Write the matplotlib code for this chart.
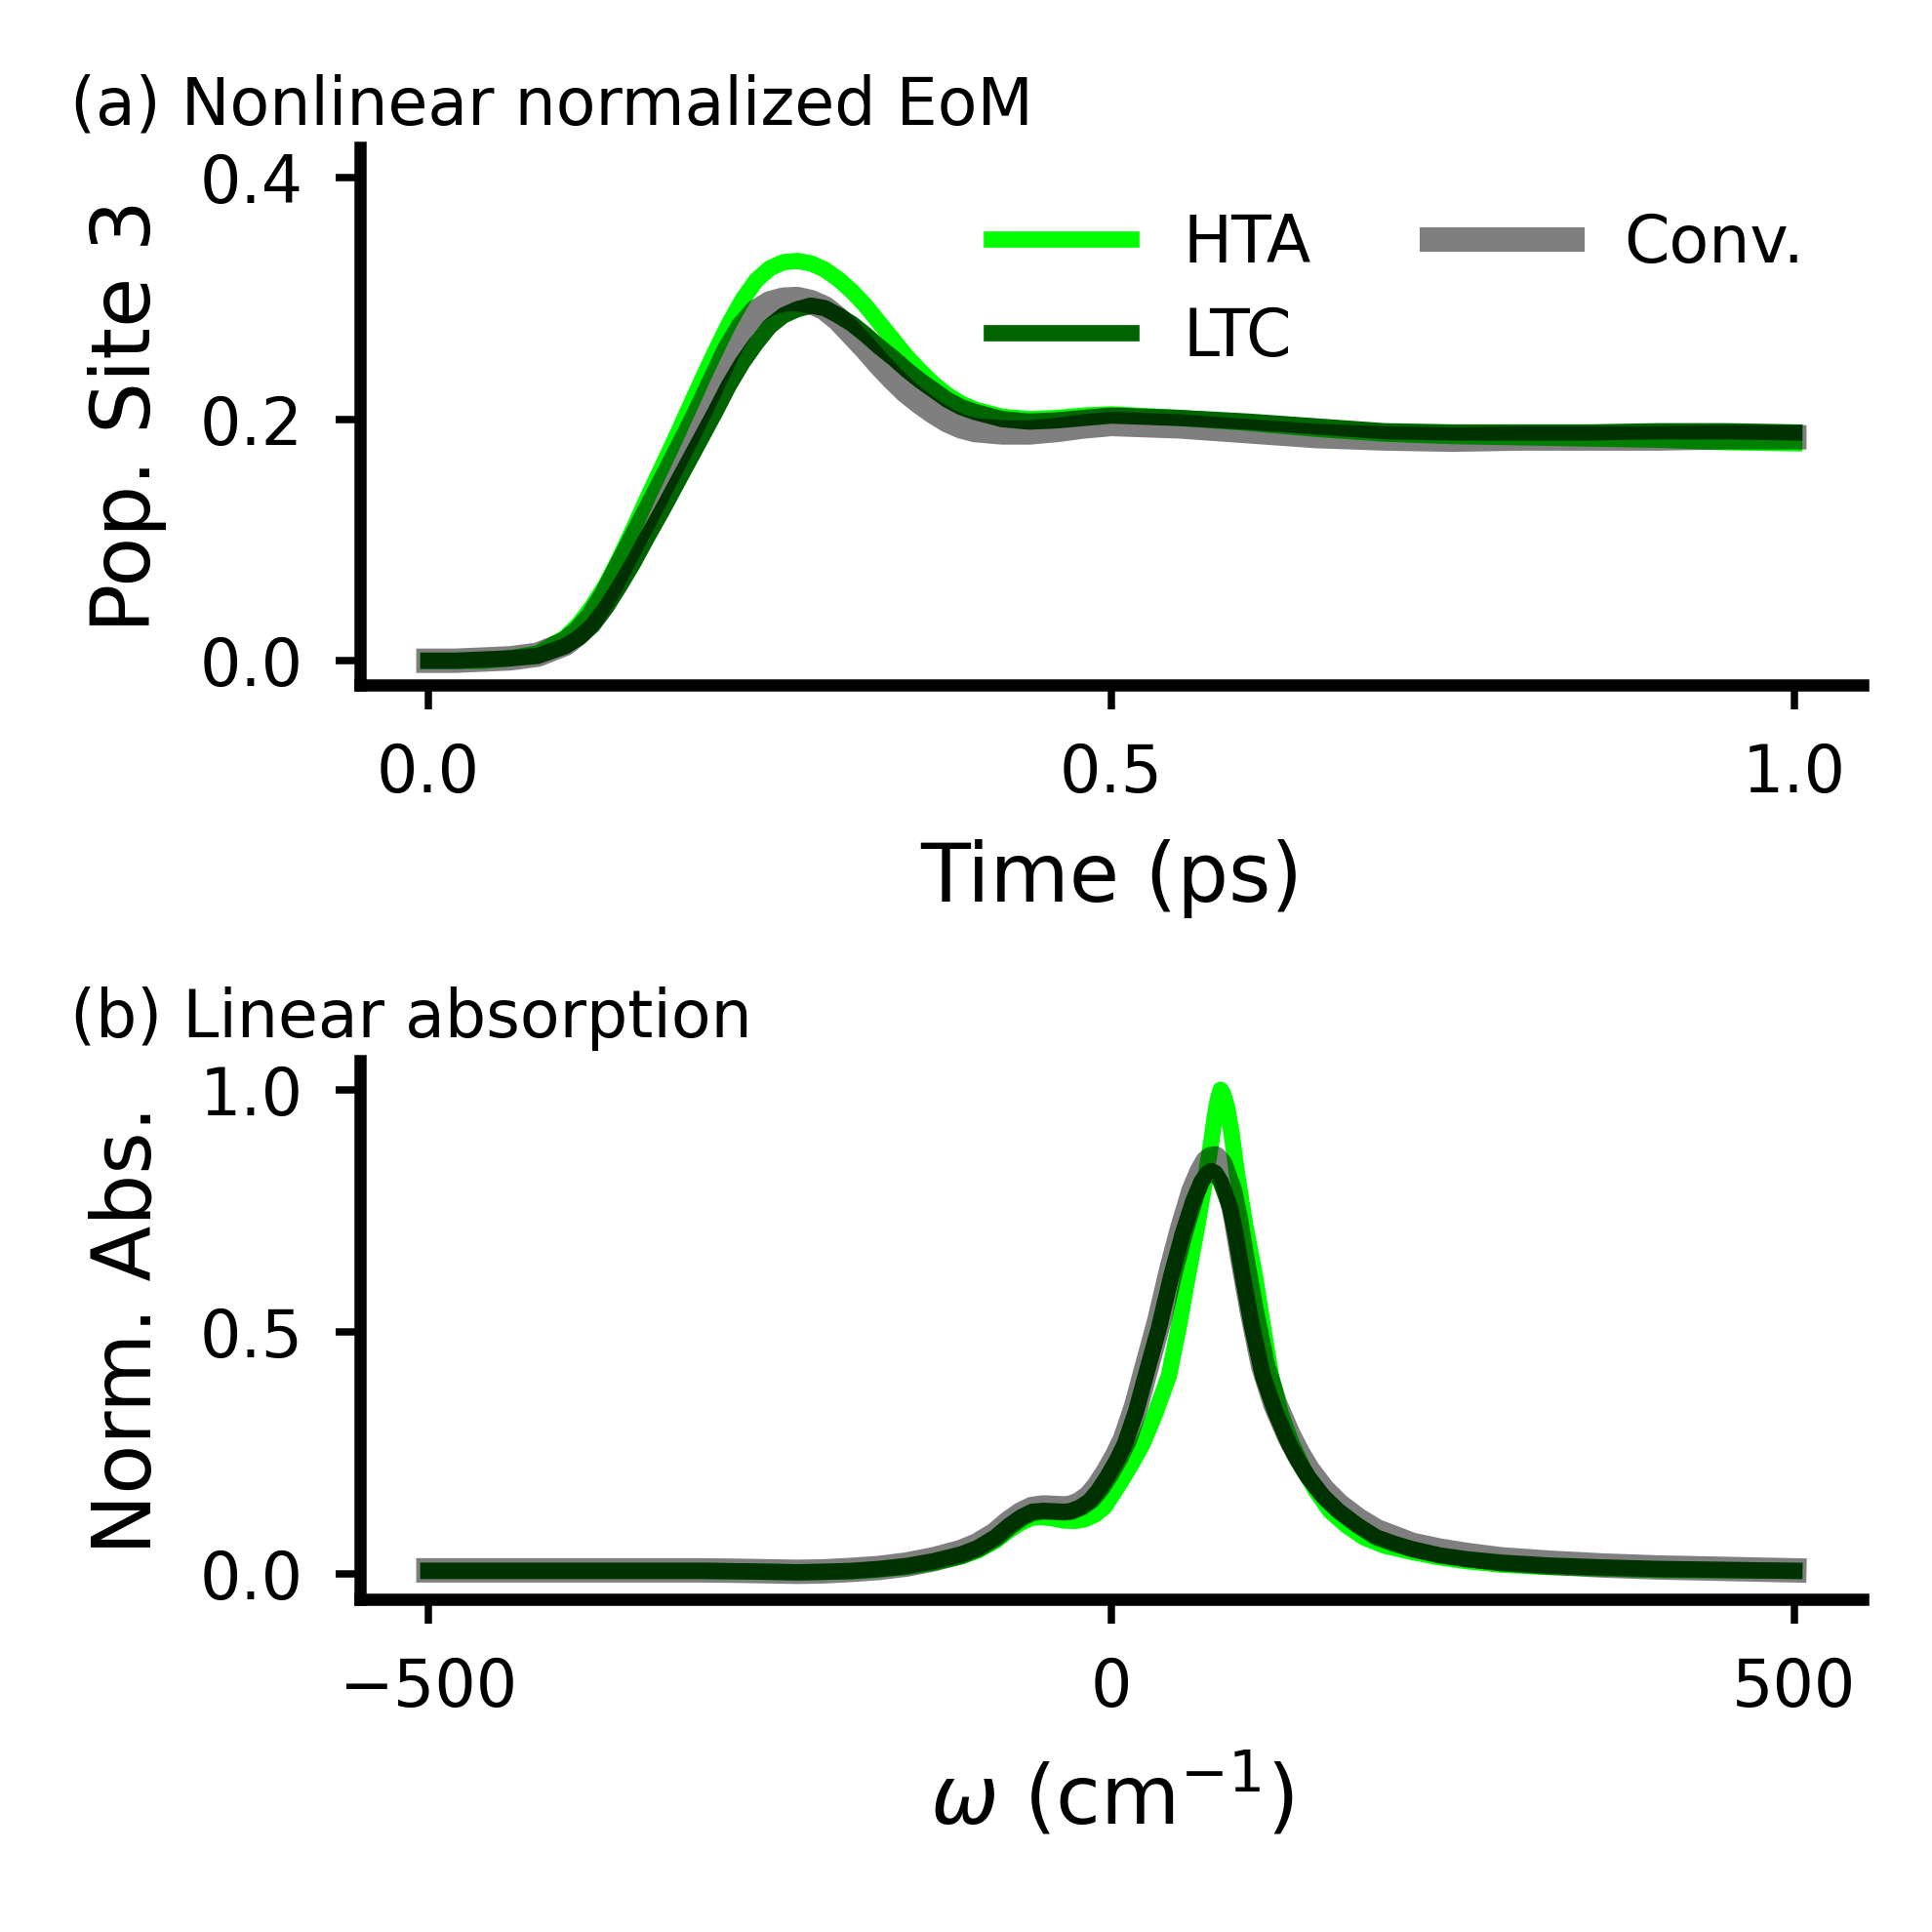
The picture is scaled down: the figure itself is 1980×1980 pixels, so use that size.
import matplotlib
matplotlib.use("Agg")
import matplotlib.pyplot as plt

# ---------------- data: (a) population of site 3 ----------------
time_ps = [0.00, 0.02, 0.04, 0.06, 0.08, 0.10, 0.11, 0.12, 0.13, 0.14,
           0.15, 0.16, 0.17, 0.18, 0.19, 0.20, 0.21, 0.22, 0.23, 0.24,
           0.25, 0.26, 0.27, 0.28, 0.29, 0.30, 0.31, 0.32, 0.33, 0.34,
           0.35, 0.36, 0.37, 0.38, 0.39, 0.40, 0.42, 0.44, 0.46, 0.48,
           0.50, 0.55, 0.60, 0.65, 0.70, 0.75, 0.80, 0.85, 0.90, 0.95, 1.00]
pop_hta = [0.000, 0.000, 0.000, 0.002, 0.006, 0.019, 0.030, 0.045, 0.063, 0.085,
           0.109, 0.134, 0.158, 0.182, 0.207, 0.232, 0.256, 0.279, 0.299, 0.315,
           0.325, 0.330, 0.331, 0.329, 0.324, 0.316, 0.306, 0.294, 0.280, 0.266,
           0.252, 0.240, 0.229, 0.220, 0.213, 0.208, 0.202, 0.200, 0.201, 0.203,
           0.204, 0.201, 0.197, 0.192, 0.188, 0.186, 0.185, 0.184, 0.183, 0.181, 0.180]
pop_ltc = [0.000, 0.000, 0.001, 0.002, 0.004, 0.012, 0.019, 0.029, 0.044, 0.062,
           0.081, 0.102, 0.122, 0.143, 0.164, 0.185, 0.206, 0.228, 0.247, 0.263,
           0.277, 0.286, 0.291, 0.294, 0.292, 0.286, 0.279, 0.270, 0.260, 0.251,
           0.241, 0.232, 0.224, 0.216, 0.210, 0.206, 0.200, 0.198, 0.199, 0.201,
           0.203, 0.201, 0.198, 0.194, 0.190, 0.189, 0.189, 0.189, 0.190, 0.190, 0.189]
pop_conv = [0.000, 0.000, 0.001, 0.002, 0.005, 0.014, 0.023, 0.036, 0.054, 0.076,
            0.098, 0.120, 0.142, 0.164, 0.186, 0.209, 0.233, 0.257, 0.276, 0.289,
            0.296, 0.299, 0.2995, 0.297, 0.292, 0.283, 0.271, 0.259, 0.246, 0.234,
            0.223, 0.214, 0.206, 0.199, 0.194, 0.191, 0.189, 0.189, 0.191, 0.194,
            0.196, 0.194, 0.190, 0.186, 0.184, 0.183, 0.184, 0.184, 0.184, 0.185, 0.185]

# ---------------- data: (b) linear absorption ----------------
omega_hta = [-500, -450, -400, -350, -300, -270, -250, -230, -210, -190, -170,
             -150, -130, -110, -98, -85, -75, -66, -58, -50, -42, -35, -27, -20,
             -12, -5, 1, 8, 15, 23, 32, 42, 49, 56, 63, 69, 73, 76, 78, 80, 82,
             85, 88, 92, 98, 105, 111, 117, 124, 132, 140, 150, 160, 172, 185,
             200, 220, 240, 260, 285, 320, 360, 400, 450, 500]
abs_hta = [0.006, 0.006, 0.006, 0.006, 0.006, 0.005, 0.004, 0.003, 0.004, 0.005,
           0.009, 0.014, 0.023, 0.036, 0.048, 0.068, 0.090, 0.106, 0.116, 0.117,
           0.114, 0.110, 0.109, 0.112, 0.122, 0.138, 0.164, 0.195, 0.228, 0.269,
           0.330, 0.408, 0.505, 0.615, 0.720, 0.820, 0.890, 0.950, 0.980, 1.000,
           0.990, 0.960, 0.910, 0.826, 0.720, 0.617, 0.510, 0.408, 0.330, 0.269,
           0.220, 0.170, 0.130, 0.100, 0.075, 0.058, 0.045, 0.034, 0.026, 0.019,
           0.014, 0.011, 0.008, 0.007, 0.006]

omega_ltc = [-500, -450, -400, -350, -300, -270, -250, -230, -210, -190, -170,
             -150, -130, -110, -98, -85, -75, -66, -58, -50, -42, -35, -30, -23,
             -16, -10, -3, 4, 10, 18, 25, 35, 44, 52, 60, 66, 70, 73, 76, 80,
             87, 91, 96, 103, 111, 120, 130, 137, 144, 155, 166, 180, 194, 208,
             220, 240, 260, 285, 320, 360, 400, 450, 500]
abs_ltc = [0.006, 0.006, 0.006, 0.006, 0.006, 0.005, 0.004, 0.003, 0.004, 0.006,
           0.010, 0.016, 0.026, 0.040, 0.053, 0.075, 0.099, 0.117, 0.128, 0.130,
           0.129, 0.128, 0.129, 0.137, 0.150, 0.170, 0.200, 0.234, 0.269, 0.335,
           0.408, 0.510, 0.617, 0.700, 0.770, 0.810, 0.826, 0.832, 0.828, 0.810,
           0.756, 0.700, 0.617, 0.510, 0.408, 0.335, 0.269, 0.232, 0.200, 0.160,
           0.130, 0.100, 0.075, 0.061, 0.051, 0.038, 0.030, 0.023, 0.017, 0.013,
           0.010, 0.008, 0.006]

omega_conv = omega_ltc
abs_conv = [0.007, 0.007, 0.007, 0.007, 0.007, 0.006, 0.005, 0.004, 0.005, 0.008,
            0.012, 0.019, 0.030, 0.045, 0.059, 0.081, 0.105, 0.123, 0.134, 0.137,
            0.136, 0.135, 0.136, 0.144, 0.158, 0.178, 0.208, 0.243, 0.278, 0.345,
            0.418, 0.522, 0.630, 0.715, 0.790, 0.830, 0.850, 0.857, 0.858, 0.845,
            0.790, 0.735, 0.650, 0.540, 0.430, 0.350, 0.285, 0.247, 0.214, 0.173,
            0.142, 0.112, 0.088, 0.073, 0.060, 0.048, 0.039, 0.030, 0.023, 0.017,
            0.013, 0.010, 0.007]

labels = ["HTA", "LTC", "Conv."]
time_ticks = [0.0, 0.5, 1.0]
pop_ticks = [0.0, 0.2, 0.4]
omega_ticks = [-500, 0, 500]
abs_ticks = [0.0, 0.5, 1.0]

TICK_FS = 8
LABEL_FS = 10
TITLE_FS = 8

fig = plt.figure(figsize=(3.3, 3.3), dpi=600)
ax1 = fig.add_axes([0.1864, 0.6455, 0.7777, 0.2782])
ax2 = fig.add_axes([0.1864, 0.1724, 0.7777, 0.2786])


def style(ax):
    for s in ["top", "right"]:
        ax.spines[s].set_visible(False)
    for s in ["left", "bottom"]:
        ax.spines[s].set_linewidth(1.5)
    ax.tick_params(axis="both", which="major", length=3, width=0.9,
                   labelsize=TICK_FS, pad=4)


# (a)
ax1.plot(time_ps, pop_hta, color="#00ff00", lw=2, label=labels[0])
ax1.plot(time_ps, pop_ltc, color="darkgreen", lw=2, label=labels[1])
ax1.plot(time_ps, pop_conv, color="k", alpha=0.5, lw=3, label=labels[2])
ax1.set_xlim(-0.05, 1.05)
ax1.set_ylim(-0.02, 0.425)
ax1.set_xticks(time_ticks)
ax1.set_yticks(pop_ticks)
ax1.set_xlabel("Time (ps)", fontsize=LABEL_FS)
ax1.set_ylabel("Pop. Site 3", fontsize=LABEL_FS)
style(ax1)
ax1.legend(loc="upper right", ncol=2, frameon=False, fontsize=TICK_FS,
           handlelength=2.15, labelspacing=0.45, columnspacing=1.85,
           bbox_to_anchor=(1.0, 0.99))

# (b)
ax2.plot(omega_hta, abs_hta, color="#00ff00", lw=2)
ax2.plot(omega_ltc, abs_ltc, color="darkgreen", lw=2)
ax2.plot(omega_conv, abs_conv, color="k", alpha=0.5, lw=3)
ax2.set_xlim(-550, 550)
ax2.set_ylim(-0.052, 1.06)
ax2.set_xticks(omega_ticks)
ax2.set_yticks(abs_ticks)
ax2.set_xlabel(r"$\omega$ (cm$^{-1}$)", fontsize=LABEL_FS)
ax2.set_ylabel("Norm. Abs.", fontsize=LABEL_FS)
style(ax2)

fig.text(72 / 1980, 1 - 127 / 1980, "(a) Nonlinear normalized EoM",
         fontsize=TITLE_FS, ha="left", va="baseline")
fig.text(72 / 1980, 1 - 1063 / 1980, "(b) Linear absorption",
         fontsize=TITLE_FS, ha="left", va="baseline")

fig.savefig("out.png", dpi=600)
